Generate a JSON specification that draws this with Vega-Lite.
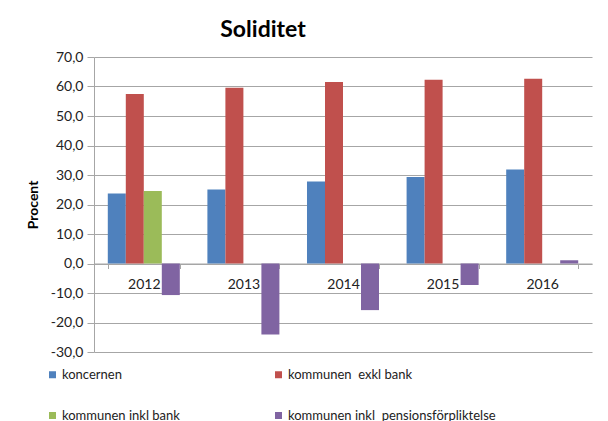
{
  "$schema": "https://vega.github.io/schema/vega-lite/v6.json",
  "width": 498,
  "height": 295,
  "autosize": {"type": "none"},
  "padding": {"left": 94, "top": 57, "right": 16, "bottom": 69},
  "background": "white",
  "title": {"text": "Soliditet", "anchor": "middle", "dx": -80, "offset": 8, "fontSize": 23, "font": "Lato", "fontWeight": "bold", "color": "#000000"},
  "config": {
    "view": {"stroke": null},
    "font": "Lato"
  },
  "data": {
    "values": [
      {"year": "2012", "series": "koncernen", "value": 23.7},
      {"year": "2012", "series": "kommunen  exkl bank", "value": 57.5},
      {"year": "2012", "series": "kommunen inkl bank", "value": 24.6},
      {"year": "2012", "series": "kommunen inkl  pensionsförpliktelse", "value": -10.7},
      {"year": "2013", "series": "koncernen", "value": 25.1},
      {"year": "2013", "series": "kommunen  exkl bank", "value": 59.6},
      {"year": "2013", "series": "kommunen inkl  pensionsförpliktelse", "value": -24.1},
      {"year": "2014", "series": "koncernen", "value": 27.8},
      {"year": "2014", "series": "kommunen  exkl bank", "value": 61.5},
      {"year": "2014", "series": "kommunen inkl  pensionsförpliktelse", "value": -15.8},
      {"year": "2015", "series": "koncernen", "value": 29.3},
      {"year": "2015", "series": "kommunen  exkl bank", "value": 62.3},
      {"year": "2015", "series": "kommunen inkl  pensionsförpliktelse", "value": -7.3},
      {"year": "2016", "series": "koncernen", "value": 31.9},
      {"year": "2016", "series": "kommunen  exkl bank", "value": 62.6},
      {"year": "2016", "series": "kommunen inkl  pensionsförpliktelse", "value": 1.1}
    ]
  },
  "mark": {"type": "bar"},
  "encoding": {
    "x": {
      "field": "year", "type": "nominal",
      "scale": {"paddingInner": 0.277, "paddingOuter": 0.1385},
      "axis": {
        "title": null, "orient": "bottom", "offset": -88.5, "labelAngle": 0,
        "tickBand": "extent", "tickSize": 5, "tickColor": "#a6a6a6",
        "domainColor": "#a6a6a6", "labelFontSize": 14, "labelColor": "#222222",
        "labelPadding": 9, "labelFont": "Lato"
      }
    },
    "xOffset": {
      "field": "series", "type": "nominal",
      "scale": {"domain": ["koncernen", "kommunen  exkl bank", "kommunen inkl bank", "kommunen inkl  pensionsförpliktelse"], "paddingInner": 0, "paddingOuter": 0}
    },
    "y": {
      "field": "value", "type": "quantitative",
      "scale": {"domain": [-30, 70], "nice": false, "zero": false},
      "axis": {
        "title": "Procent", "titleFontSize": 14, "titleFontWeight": "bold", "titleColor": "#000000", "titleFont": "Lato", "titlePadding": 10,
        "values": [-30, -20, -10, 0, 10, 20, 30, 40, 50, 60, 70],
        "labelExpr": "(datum.value < 0 ? '-' : '') + replace(format(abs(datum.value), '.1f'), '.', ',')",
        "labelFontSize": 14, "labelColor": "#222222", "labelFont": "Lato", "labelPadding": 4,
        "tickSize": 7, "tickColor": "#a6a6a6", "domainColor": "#a6a6a6",
        "grid": true, "gridColor": "#a6a6a6", "gridWidth": 1
      }
    },
    "color": {
      "field": "series", "type": "nominal",
      "scale": {
        "domain": ["koncernen", "kommunen  exkl bank", "kommunen inkl bank", "kommunen inkl  pensionsförpliktelse"],
        "range": ["#4F81BD", "#C0504D", "#9BBB59", "#8064A2"]
      },
      "legend": {
        "title": null, "orient": "none", "direction": "horizontal", "legendX": -48, "legendY": 311,
        "columns": 2, "columnPadding": 92, "rowPadding": 27, "labelLimit": 400,
        "labelExpr": "replace(datum.label, '  ', '\u00a0 ')",
        "symbolType": "square", "symbolSize": 49, "symbolStrokeWidth": 0,
        "labelFontSize": 13, "labelFont": "Lato", "labelColor": "#222222", "labelOffset": 3
      }
    }
  }
}
